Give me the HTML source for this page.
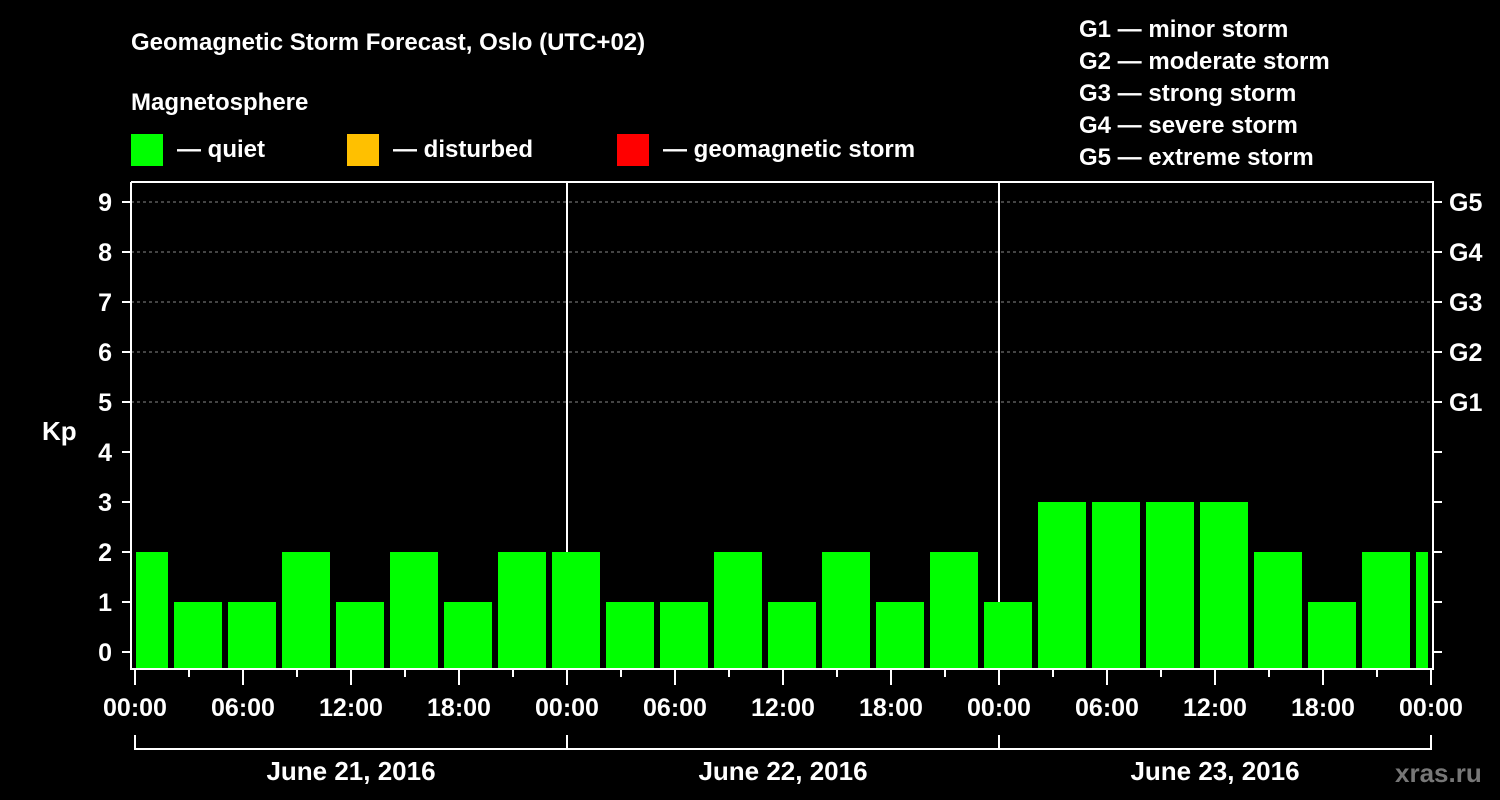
<!DOCTYPE html>
<html><head><meta charset="utf-8"><style>
html,body{margin:0;padding:0;background:#000;}
svg{display:block;font-family:"Liberation Sans",sans-serif;font-weight:bold;}
</style></head><body>
<svg id="c" width="1500" height="800" viewBox="0 0 1500 800">
<rect width="1500" height="800" fill="#000"/>
<text x="131" y="50" fill="#fff" font-size="24">Geomagnetic Storm Forecast, Oslo (UTC+02)</text>
<text x="131" y="110" fill="#fff" font-size="24">Magnetosphere</text>
<g><rect x="131" y="134" width="32" height="32" fill="#00ff00"/><text x="177" y="157" fill="#fff" font-size="24">— quiet</text></g>
<g><rect x="347" y="134" width="32" height="32" fill="#ffc000"/><text x="393" y="157" fill="#fff" font-size="24">— disturbed</text></g>
<g><rect x="617" y="134" width="32" height="32" fill="#ff0000"/><text x="663" y="157" fill="#fff" font-size="24">— geomagnetic storm</text></g>
<g fill="#fff" font-size="24">
<text x="1079" y="37">G1 — minor storm</text>
<text x="1079" y="69">G2 — moderate storm</text>
<text x="1079" y="101">G3 — strong storm</text>
<text x="1079" y="133">G4 — severe storm</text>
<text x="1079" y="165">G5 — extreme storm</text>
</g>
<text x="42" y="440" fill="#fff" font-size="26">Kp</text>
<text x="1395" y="782" fill="#777" font-size="26">xras.ru</text>
<g id="grid"></g><g id="bars"></g><g id="axes"></g>
</svg>
<script>
const kpValues=[2,1,1,2,1,2,1,2,2,1,1,2,1,2,1,2,1,3,3,3,3,2,1,2,2];
const yTicks=[0,1,2,3,4,5,6,7,8,9];
const gLabels=["G1","G2","G3","G4","G5"];
const gLevels=[5,6,7,8,9];
const hourLabels=["00:00","06:00","12:00","18:00","00:00","06:00","12:00","18:00","00:00","06:00","12:00","18:00","00:00"];
const dayLabels=["June 21, 2016","June 22, 2016","June 23, 2016"];
const firstBarHour=-1;
const NS="http://www.w3.org/2000/svg";
const X0=135,PX_H=18,Y0=652,PX_K=50,TOP=182,BOT=668,LEFT=131,RIGHT=1432;
const xs=h=>X0+h*PX_H, ys=k=>Y0-k*PX_K;
function mk(p,t,a){const e=document.createElementNS(NS,t);for(const k in a)e.setAttribute(k,a[k]);p.appendChild(e);return e;}
const grid=document.getElementById('grid'),bars=document.getElementById('bars'),axes=document.getElementById('axes');
yTicks.forEach(k=>{if(k>=5){const l=mk(grid,'line',{x1:LEFT,x2:RIGHT,y1:ys(k),y2:ys(k),stroke:'#888','stroke-dasharray':'3,3','stroke-width':1});

}});
[1,2].forEach(d=>{const l=mk(grid,'line',{x1:xs(d*24),x2:xs(d*24),y1:TOP,y2:BOT,stroke:'#fff','stroke-width':2});

});
kpValues.forEach((v,i)=>{const h=firstBarHour+i*3;let x1=xs(h)+3,x2=xs(h+3)-3;x1=Math.max(x1,136);x2=Math.min(x2,1428);
const col=v>=5?'#ff0000':(v>=4?'#ffc000':'#00ff00');
const r=mk(bars,'rect',{x:x1,y:ys(v),width:x2-x1,height:BOT-ys(v),fill:col});

});
mk(axes,'path',{d:`M${LEFT} ${TOP}V${BOT+1}H${RIGHT+1}V${TOP}H${LEFT}`,stroke:'#fff','stroke-width':2,fill:'none'});
yTicks.forEach(k=>{mk(axes,'line',{x1:122,x2:LEFT,y1:ys(k),y2:ys(k),stroke:'#fff','stroke-width':2});
mk(axes,'line',{x1:RIGHT,x2:1442,y1:ys(k),y2:ys(k),stroke:'#fff','stroke-width':2});
const t=mk(axes,'text',{x:112,y:ys(k)+9,fill:'#fff','font-size':25,'text-anchor':'end'});t.textContent=k;

});
gLabels.forEach((g,i)=>{const t=mk(axes,'text',{x:1449,y:ys(gLevels[i])+9,fill:'#fff','font-size':25});t.textContent=g;

});
for(let h=0;h<=72;h+=3){const major=h%6===0;mk(axes,'line',{x1:xs(h),x2:xs(h),y1:BOT+2,y2:major?685:677,stroke:'#fff','stroke-width':2});}
hourLabels.forEach((s,i)=>{const t=mk(axes,'text',{x:xs(i*6),y:716,fill:'#fff','font-size':25,'text-anchor':'middle'});t.textContent=s;

});
mk(axes,'path',{d:`M${xs(0)} 735V749H${xs(72)}V735`,stroke:'#fff','stroke-width':2,fill:'none'});
[1,2].forEach(d=>mk(axes,'line',{x1:xs(d*24),x2:xs(d*24),y1:735,y2:749,stroke:'#fff','stroke-width':2}));
dayLabels.forEach((s,i)=>{const t=mk(axes,'text',{x:xs(i*24+12),y:780,fill:'#fff','font-size':26,'text-anchor':'middle'});t.textContent=s;

});
</script>
</body></html>
